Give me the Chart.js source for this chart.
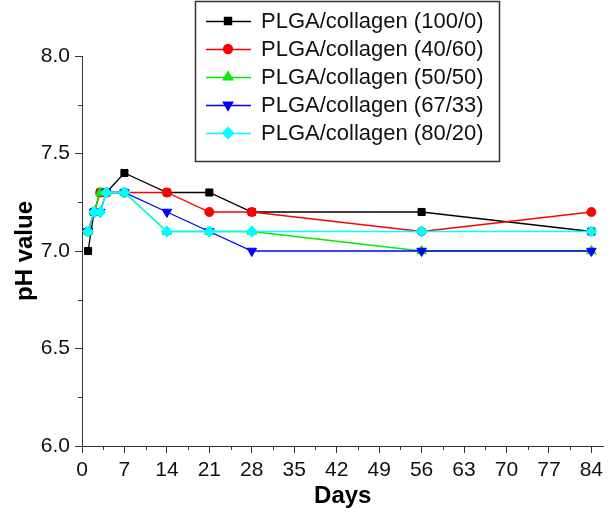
<!DOCTYPE html>
<html lang="en">
<head>
  <meta charset="UTF-8">
  <title>pH value of PLGA/collagen over time</title>
  <script src="https://cdn.jsdelivr.net/npm/chart.js"></script>
  <style>
    html, body { margin: 0; padding: 0; background: #fff; }
    #wrap { width: 610px; height: 519px; }
  </style>
</head>
<body>
  <div id="wrap"><canvas id="phChart"></canvas></div>

  <script>
    // sampling days and axis ticks
    const days = [1, 2, 3, 4, 7, 14, 21, 28, 56, 84];
    const xTicks = [0, 7, 14, 21, 28, 35, 42, 49, 56, 63, 70, 77, 84];
    const yTicks = [6.0, 6.5, 7.0, 7.5, 8.0];

    // pH values per formulation
    const seriesNames = [
      'PLGA/collagen (100/0)',
      'PLGA/collagen (40/60)',
      'PLGA/collagen (50/50)',
      'PLGA/collagen (67/33)',
      'PLGA/collagen (80/20)'
    ];
    const ph100_0 = [7.0, 7.2, 7.3, 7.3, 7.4, 7.3, 7.3, 7.2, 7.2, 7.1];
    const ph40_60 = [7.1, 7.2, 7.3, 7.3, 7.3, 7.3, 7.2, 7.2, 7.1, 7.2];
    const ph50_50 = [7.1, 7.2, 7.3, 7.3, 7.3, 7.1, 7.1, 7.1, 7.0, 7.0];
    const ph67_33 = [7.1, 7.2, 7.2, 7.3, 7.3, 7.2, 7.1, 7.0, 7.0, 7.0];
    const ph80_20 = [7.1, 7.2, 7.2, 7.3, 7.3, 7.1, 7.1, 7.1, 7.1, 7.1];

    const FONT = "'Liberation Sans', Arial, sans-serif";

    function series(label, values, color, style, radius, rotation, order) {
      return {
        label: label,
        data: days.map((d, i) => ({ x: d, y: values[i] })),
        borderColor: color,
        backgroundColor: color,
        pointBackgroundColor: color,
        pointBorderColor: color,
        borderWidth: 1.3,
        pointStyle: style,
        pointRadius: radius,
        pointRotation: rotation,
        pointBorderWidth: 1,
        tension: 0,
        order: order
      };
    }

    // minor ticks halfway between the labelled ones
    function midpoints(arr) {
      const out = [];
      for (let i = 0; i < arr.length - 1; i++) out.push((arr[i] + arr[i + 1]) / 2);
      return out;
    }

    const minorTicks = {
      id: 'minorTicks',
      afterDraw(chart) {
        const ctx = chart.ctx;
        const xs = chart.scales.x, ys = chart.scales.y;
        ctx.save();
        ctx.strokeStyle = '#333';
        ctx.lineWidth = 1;
        ctx.beginPath();
        midpoints(xTicks).forEach(v => {
          const px = Math.round(xs.getPixelForValue(v)) + 0.5;
          ctx.moveTo(px, ys.bottom);
          ctx.lineTo(px, ys.bottom + 4);
        });
        midpoints(yTicks).forEach(v => {
          const py = Math.round(ys.getPixelForValue(v)) + 0.5;
          ctx.moveTo(xs.left, py);
          ctx.lineTo(xs.left - 4, py);
        });
        ctx.stroke();
        ctx.restore();
      }
    };

    // boxed legend in the upper right, line + marker + text
    const boxLegend = {
      id: 'boxLegend',
      afterDraw(chart) {
        const ctx = chart.ctx;
        const left = 195, top = 1, right = 499, bottom = 161;
        ctx.save();
        ctx.fillStyle = '#fff';
        ctx.fillRect(left, top, right - left, bottom - top);
        ctx.strokeStyle = '#333';
        ctx.lineWidth = 1.5;
        ctx.strokeRect(left + 0.5, top + 0.5, right - left, bottom - top);

        ctx.font = '22px ' + FONT;
        ctx.textBaseline = 'middle';
        ctx.textAlign = 'left';
        chart.data.datasets.forEach((ds, i) => {
          const y = 21 + i * 28;
          ctx.strokeStyle = ds.borderColor;
          ctx.lineWidth = 1.3;
          ctx.beginPath();
          ctx.moveTo(206, y + 0.5);
          ctx.lineTo(251, y + 0.5);
          ctx.stroke();
          ctx.fillStyle = ds.pointBackgroundColor;
          ctx.strokeStyle = ds.pointBorderColor;
          Chart.helpers.drawPoint(ctx, {
            pointStyle: ds.pointStyle,
            rotation: ds.pointRotation,
            radius: ds.pointRadius,
            borderWidth: 1
          }, 228, y);
          ctx.fillStyle = '#111';
          ctx.fillText(ds.label, 261, y + 1);
        });
        ctx.restore();
      }
    };

    new Chart(document.getElementById('phChart'), {
      type: 'line',
      data: {
        datasets: [
          series(seriesNames[0], ph100_0, '#000000', 'rect', 5, 0, 4),
          series(seriesNames[1], ph40_60, '#ff0000', 'circle', 4.5, 0, 3),
          series(seriesNames[2], ph50_50, '#00ee00', 'triangle', 5.5, 0, 2),
          series(seriesNames[3], ph67_33, '#0000ff', 'triangle', 5.5, 180, 1),
          series(seriesNames[4], ph80_20, '#00ffff', 'rectRot', 5.5, 0, 0)
        ]
      },
      options: {
        responsive: true,
        maintainAspectRatio: false,
        animation: false,
        layout: { padding: { top: 56, right: 0, bottom: 0, left: 0 } },
        plugins: {
          legend: { display: false },
          tooltip: { enabled: false }
        },
        scales: {
          x: {
            type: 'linear',
            min: 0,
            max: 86,
            afterFit: s => { s.height = 73; },
            afterBuildTicks: s => { s.ticks = xTicks.map(v => ({ value: v })); },
            ticks: {
              includeBounds: false,
              color: '#111',
              padding: 5,
              maxRotation: 0,
              font: { family: FONT, size: 21 }
            },
            grid: { drawOnChartArea: false, tickLength: 7, color: '#333' },
            border: { color: '#333', width: 1 },
            title: {
              display: true,
              text: 'Days',
              color: '#000',
              padding: { top: 0, bottom: 8 },
              font: { family: FONT, size: 24, weight: 'bold' }
            }
          },
          y: {
            min: 6,
            max: 8,
            afterFit: s => { s.width = 82; },
            afterBuildTicks: s => { s.ticks = yTicks.map(v => ({ value: v })); },
            ticks: {
              color: '#111',
              padding: 5,
              callback: v => Number(v).toFixed(1),
              font: { family: FONT, size: 21 }
            },
            grid: { drawOnChartArea: false, tickLength: 7, color: '#333' },
            border: { color: '#333', width: 1 },
            title: {
              display: true,
              text: 'pH value',
              color: '#000',
              padding: { top: 11, bottom: 0 },
              font: { family: FONT, size: 24, weight: 'bold' }
            }
          }
        }
      },
      plugins: [minorTicks, boxLegend]
    });
  </script>
</body>
</html>
